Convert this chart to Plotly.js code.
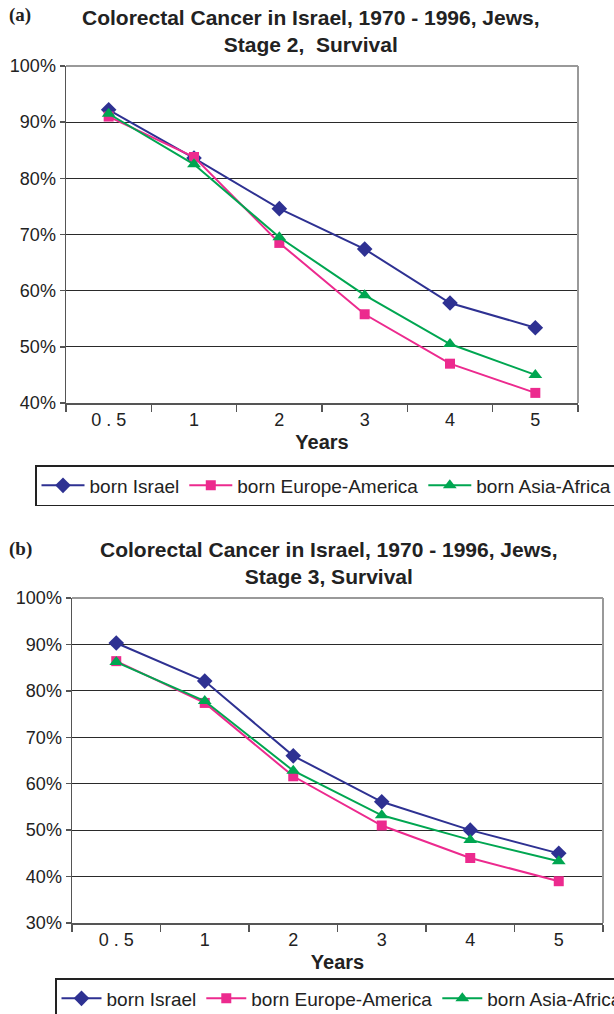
<!DOCTYPE html>
<html>
<head>
<meta charset="utf-8">
<script src="https://cdn.plot.ly/plotly-3.0.1.min.js"></script>
<style>
html, body { margin: 0; padding: 0; overflow: hidden; background: #fff; }
#chart { width: 700px; height: 1014px; }
</style>
</head>
<body>
<div id="chart"></div>
<script>
// ---- data ----
var years = ['0 . 5', '1', '2', '3', '4', '5'];
var seriesNames = ['born Israel', 'born Europe-America', 'born Asia-Africa'];

// Stage 2 survival (%)
var s2Israel = [92.2, 83.6, 74.6, 67.4, 57.8, 53.4];
var s2EuropeAmerica = [91.0, 83.8, 68.5, 55.8, 47.0, 41.8];
var s2AsiaAfrica = [91.5, 82.5, 69.5, 59.2, 50.5, 45.0];

// Stage 3 survival (%)
var s3Israel = [90.3, 82.1, 66.0, 56.1, 50.0, 45.0];
var s3EuropeAmerica = [86.4, 77.4, 61.6, 51.0, 44.0, 39.0];
var s3AsiaAfrica = [86.2, 77.8, 62.8, 53.2, 47.9, 43.3];

var yTicks2 = [40, 50, 60, 70, 80, 90, 100];
var yTicks3 = [30, 40, 50, 60, 70, 80, 90, 100];

// ---- styling ----
var W = 700, H = 1014;
var colors = ['#2E3192', '#EC2A8E', '#00A651'];
var symbols = ['diamond', 'square', 'triangle-up'];
var msize = [12, 10, 12];
var font = 'Liberation Sans, Arial, Helvetica, sans-serif';

function px(x) { return x / W; }
function py(y) { return 1 - y / H; }

var stage2 = [s2Israel, s2EuropeAmerica, s2AsiaAfrica];
var stage3 = [s3Israel, s3EuropeAmerica, s3AsiaAfrica];

var traces = [];
stage2.forEach(function (vals, i) {
  traces.push({
    type: 'scatter', mode: 'lines+markers', x: years, y: vals,
    name: seriesNames[i], xaxis: 'x', yaxis: 'y', legend: 'legend',
    line: { color: colors[i], width: 2 },
    marker: { color: colors[i], symbol: symbols[i], size: msize[i] },
    cliponaxis: false
  });
});
stage3.forEach(function (vals, i) {
  traces.push({
    type: 'scatter', mode: 'lines+markers', x: years, y: vals,
    name: seriesNames[i], xaxis: 'x2', yaxis: 'y2', legend: 'legend2',
    line: { color: colors[i], width: 2 },
    marker: { color: colors[i], symbol: symbols[i], size: msize[i] },
    cliponaxis: false
  });
});

function xAxis(domain, anchor) {
  return {
    domain: domain, anchor: anchor, type: 'category',
    range: [-0.5, 5.5], tickson: 'boundaries',
    ticks: 'outside', ticklen: 7, tickwidth: 1.5, tickcolor: '#555',
    showline: true, linecolor: '#555', linewidth: 1.5,
    showgrid: false, zeroline: false,
    tickfont: { family: font, size: 18, color: '#222' },
    title: { text: '<b>Years</b>', font: { family: font, size: 20, color: '#222' }, standoff: 6 },
    fixedrange: true
  };
}
function yAxis(domain, anchor, ticks) {
  return {
    domain: domain, anchor: anchor,
    range: [ticks[0], ticks[ticks.length - 1]],
    tickvals: ticks, ticktext: ticks.map(function (t) { return t + '%'; }),
    ticks: 'outside', ticklen: 5, tickwidth: 1.5, tickcolor: '#555',
    showline: true, linecolor: '#555', linewidth: 1.5,
    showgrid: true, gridcolor: '#2a2a2a', gridwidth: 1,
    zeroline: false,
    tickfont: { family: font, size: 18, color: '#222' },
    fixedrange: true
  };
}

var legendCommon = {
  orientation: 'h', xanchor: 'left', yanchor: 'top',
  bordercolor: '#222', borderwidth: 1.5, bgcolor: '#fff',
  font: { family: font, size: 19, color: '#222' },
  tracegroupgap: 0
};
var legend1 = Object.assign({}, legendCommon, { x: px(35), y: py(465), itemwidth: 43 });
var legend2 = Object.assign({}, legendCommon, { x: px(55), y: py(978), itemwidth: 40 });

var frameColor = '#999';
function frame(xr, yr) {
  return [
    { type: 'line', xref: xr + ' domain', yref: yr + ' domain', x0: 0, x1: 1, y0: 1, y1: 1, line: { color: frameColor, width: 2 } },
    { type: 'line', xref: xr + ' domain', yref: yr + ' domain', x0: 1, x1: 1, y0: 0, y1: 1, line: { color: frameColor, width: 2 } }
  ];
}

var layout = {
  width: W, height: H,
  margin: { l: 0, r: 0, t: 0, b: 0, autoexpand: false },
  paper_bgcolor: '#fff', plot_bgcolor: '#fff',
  showlegend: true,
  xaxis: xAxis([px(66), px(578)], 'y'),
  yaxis: yAxis([py(403), py(66)], 'x', yTicks2),
  xaxis2: xAxis([px(72), px(603)], 'y2'),
  yaxis2: yAxis([py(923), py(598)], 'x2', yTicks3),
  legend: legend1,
  legend2: legend2,
  shapes: frame('x', 'y').concat(frame('x2', 'y2')),
  annotations: [
    { xref: 'paper', yref: 'paper', x: px(311), y: py(31.5), xanchor: 'center', yanchor: 'middle',
      text: '<b>Colorectal Cancer in Israel, 1970 - 1996, Jews,<br>Stage 2,\u00a0 Survival</b>',
      showarrow: false, align: 'center', font: { family: font, size: 21, color: '#222' } },
    { xref: 'paper', yref: 'paper', x: px(329), y: py(563), xanchor: 'center', yanchor: 'middle',
      text: '<b>Colorectal Cancer in Israel, 1970 - 1996, Jews,<br>Stage 3, Survival</b>',
      showarrow: false, align: 'center', font: { family: font, size: 21, color: '#222' } },
    { xref: 'paper', yref: 'paper', x: px(7), y: py(15), xanchor: 'left', yanchor: 'middle',
      text: '<b>(a)</b>', showarrow: false,
      font: { family: 'Liberation Serif, Times New Roman, serif', size: 19, color: '#222' } },
    { xref: 'paper', yref: 'paper', x: px(7), y: py(549), xanchor: 'left', yanchor: 'middle',
      text: '<b>(b)</b>', showarrow: false,
      font: { family: 'Liberation Serif, Times New Roman, serif', size: 19, color: '#222' } }
  ]
};

Plotly.newPlot('chart', traces, layout, { staticPlot: true, displayModeBar: false });
</script>
</body>
</html>
